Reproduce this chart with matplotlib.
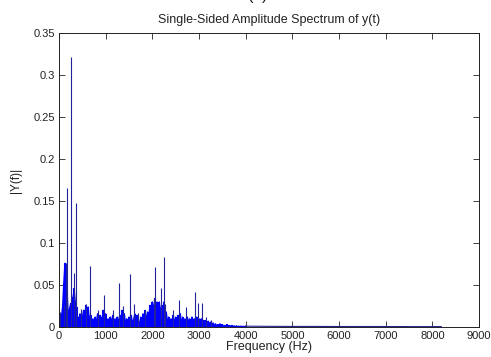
import numpy as np
import matplotlib
matplotlib.use("Agg")
import matplotlib.pyplot as plt

plt.rcParams['font.family'] = ['Liberation Sans', 'DejaVu Sans']

# dense part of the spectrum, one value every 25 Hz from 0 to 4000 Hz
env_freq = np.arange(0, 4001, 25)
env_amp = [
    0.016, 0.006, 0.012, 0.024, 0.052, 0.076, 0.030, 0.042, 0.014, 0.022, 0.028, 0.012, 0.036, 0.046, 0.030, 0.024, 0.012,
    0.008, 0.016, 0.006, 0.012, 0.020, 0.014, 0.026, 0.018, 0.024, 0.010, 0.014, 0.006,
    0.010, 0.004, 0.012, 0.006, 0.016, 0.008, 0.014, 0.006, 0.012, 0.020, 0.010, 0.016,
    0.004, 0.010, 0.003, 0.012, 0.006, 0.014, 0.004, 0.010, 0.005, 0.012, 0.006, 0.014,
    0.010, 0.020, 0.008, 0.016, 0.005, 0.010, 0.004, 0.012, 0.006, 0.014, 0.004, 0.010,
    0.016, 0.006, 0.014, 0.008, 0.004, 0.012, 0.006, 0.016, 0.010, 0.020, 0.008, 0.018,
    0.014, 0.026, 0.018, 0.030, 0.020, 0.034, 0.022, 0.030, 0.016, 0.030, 0.018, 0.026,
    0.020, 0.030, 0.012, 0.018, 0.006, 0.012, 0.004, 0.010, 0.006, 0.014, 0.005, 0.012,
    0.006, 0.014, 0.008, 0.016, 0.005, 0.012, 0.006, 0.010, 0.004, 0.012, 0.006, 0.010,
    0.005, 0.012, 0.006, 0.010, 0.004, 0.012, 0.006, 0.010, 0.004, 0.010, 0.005, 0.008,
    0.004, 0.008, 0.003, 0.007, 0.004, 0.006, 0.003, 0.005, 0.002, 0.004, 0.002, 0.003,
    0.002, 0.004, 0.001, 0.003, 0.001, 0.002, 0.001, 0.003, 0.001, 0.002, 0.001, 0.002,
    0.0005, 0.0015, 0.0005, 0.0015, 0.0005, 0.0012, 0.0005, 0.0012, 0.0005, 0.001, 0.0005, 0.001,
]

# isolated spectral lines
peak_freq = [21, 107, 150, 164, 250, 314, 371, 479, 579, 664, 836, 971, 1150, 1279, 1364,
             1528, 1614, 1700, 1850, 2030, 2064, 2193, 2257, 2280, 2450, 2578, 2714, 2914,
             2986, 3057, 3150, 3260]
peak_amp = [0.018, 0.026, 0.076, 0.166, 0.322, 0.064, 0.148, 0.022, 0.027, 0.073, 0.020, 0.038,
            0.020, 0.052, 0.025, 0.063, 0.027, 0.017, 0.020, 0.035, 0.071, 0.047, 0.083, 0.027,
            0.020, 0.032, 0.024, 0.042, 0.029, 0.028, 0.012, 0.008]

# tail up to Nyquist
tail_freq = [4000, 4500, 5000, 5500, 6000, 6500, 7000, 7500, 8000, 8192]
tail_amp = [0.001, 0.0008, 0.0007, 0.0007, 0.0006, 0.0006, 0.0006, 0.0005, 0.0005, 0.0005]

fig = plt.figure(figsize=(4.91, 3.57), dpi=100)
ax = fig.add_axes([0.1202, 0.084, 0.8554, 0.8235])

ax.vlines(env_freq, 0, env_amp, color='#0000ff', lw=1.5)
ax.plot(env_freq, env_amp, color='#0000ff', lw=0.8)
ax.vlines(peak_freq, 0, peak_amp, color='#22229a', lw=0.8)
ax.plot(tail_freq, tail_amp, color='#22229a', lw=0.8)

ax.set_xlim(0, 9000)
ax.set_ylim(0, 0.35)
ax.set_xticks(range(0, 9001, 1000))
ax.set_xticklabels(['0'] + [str(v) for v in range(1000, 9001, 1000)])
ax.set_yticks([0, 0.05, 0.1, 0.15, 0.2, 0.25, 0.3, 0.35])
ax.set_yticklabels(['0', '0.05', '0.1', '0.15', '0.2', '0.25', '0.3', '0.35'])
ax.tick_params(direction='in', top=True, right=True, length=4, width=0.6,
               labelsize=8, colors='#222222', pad=3)
for s in ax.spines.values():
    s.set_linewidth(0.7)
    s.set_color('#222222')

ax.set_title('Single-Sided Amplitude Spectrum of y(t)', fontsize=9, pad=7, color='#222222')
ax.set_xlabel('Frequency (Hz)', fontsize=9, labelpad=0, color='#222222')
ax.set_ylabel('|Y(f)|', fontsize=8.5, labelpad=8, color='#222222')

fig.text(258 / 491, 1.0014, '(c)', fontsize=12, ha='center', va='baseline', color='#222222')

fig.savefig('out.png', dpi=100)
